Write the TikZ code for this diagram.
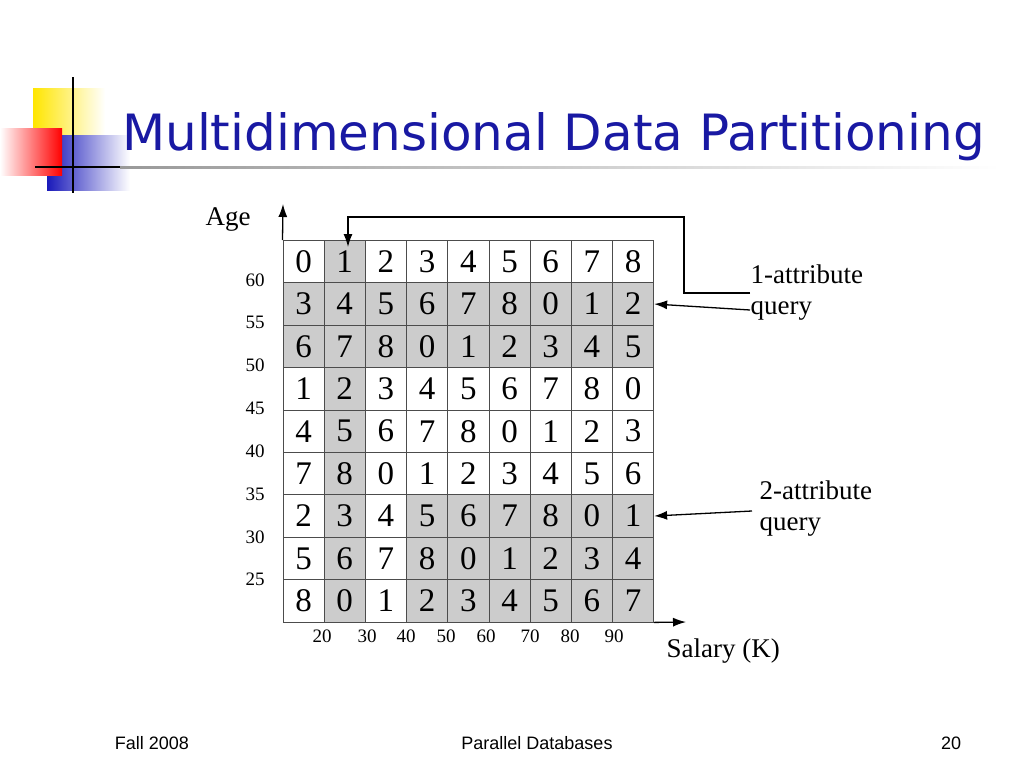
\documentclass[tikz,border=0pt]{standalone}
\usepackage{fontspec}
\setmainfont{Liberation Serif}
\newfontfamily\titlefont{DejaVu Sans}
\newfontfamily\footfont{Liberation Sans}
\usetikzlibrary{arrows.meta}
\begin{document}
\begin{tikzpicture}[x=1pt,y=-1pt,
  cell/.style={draw=black!70,line width=0.8pt,minimum width=41.2pt,minimum height=42.4pt,inner sep=0pt,anchor=north west,font=\fontsize{33}{33}\selectfont},
  shaded/.style={fill=black!20},
  ax/.style={font=\fontsize{19}{19}\selectfont},
  lbl/.style={font=\fontsize{27}{31}\selectfont,align=left,anchor=west},
  arr/.style={-{Latex[length=13pt,width=9pt]},line width=1.3pt}]
\useasboundingbox (0,0) rectangle (1024,768);
% logo
\shade[left color=yellow!80!orange,right color=white] (33,88) rectangle (105,135);
\shade[left color=blue!70!black!90,right color=white] (47,135) rectangle (130,190);
\shade[left color=white,right color=red] (0,128) rectangle (62,175);
\draw[line width=2.5pt] (73,77) -- (73,193);
\draw[line width=2.5pt] (35,167) -- (140,167);
\shade[left color=black!40,right color=white] (120,166.5) rectangle (1000,168);
\node[anchor=base west,inner sep=0pt,text=blue!60!black!90,font=\titlefont\fontsize{50}{50}\selectfont] (title) at (122,150) {Multidimensional Data Partitioning};
% grid
\foreach \r in {0,...,8}{
  \foreach \c in {0,...,8}{
    \pgfmathtruncatemacro{\v}{mod(\r*3+floor(\r/3)+\c,9)}
    \pgfmathtruncatemacro{\s}{(\c==1) || (\r==1) || (\r==2) || ((\r>=6) && (\c>=3)) ? 1 : 0}
    \ifnum\s=1
      \node[cell,shaded] (c\r\c) at ({282.5+41.2*\c},{240+42.4*\r}) {\v};
    \else
      \node[cell] (c\r\c) at ({282.5+41.2*\c},{240+42.4*\r}) {\v};
    \fi
  }}
% axes
\coordinate (yt) at (283,204);
\coordinate (xt) at (686,622);
\draw[arr] (c00.north west) -- (yt);
\draw[arr] (c88.south east) -- (xt);
\node[lbl,anchor=center] (age) at (228,219) {Age};
\node[lbl] (sal) at (663,651) {Salary (K)};
\foreach \t [count=\i from 0] in {60,55,50,45,40,35,30,25}
  \node[ax] (y\i) at (255,{280+42.8*\i}) {\t};
\foreach \t/\x in {20/322,30/367,40/406,50/446,60/486,70/530,80/570,90/614}
  \node[ax] (x\t) at (\x,636) {\t};
% queries
\node[lbl] (q1) at (747,293) {1-attribute\\query};
\node[lbl] (q2) at (756,509) {2-attribute\\query};
\coordinate (b1) at (750,293);
\draw[arr] (b1) -- (684,293) -- (684,217) -- (348,217) -- (348,247);
\draw[arr] (750,310) -- (c18.east);
\draw[arr] (752,511) -- (c68.east);
% footer
\node[font=\footfont\fontsize{18}{18}\selectfont] (f1) at (152,743) {Fall 2008};
\node[font=\footfont\fontsize{18}{18}\selectfont] (f2) at (537,743) {Parallel Databases};
\node[font=\footfont\fontsize{18}{18}\selectfont] (f3) at (951,743) {20};
\end{tikzpicture}
\end{document}
